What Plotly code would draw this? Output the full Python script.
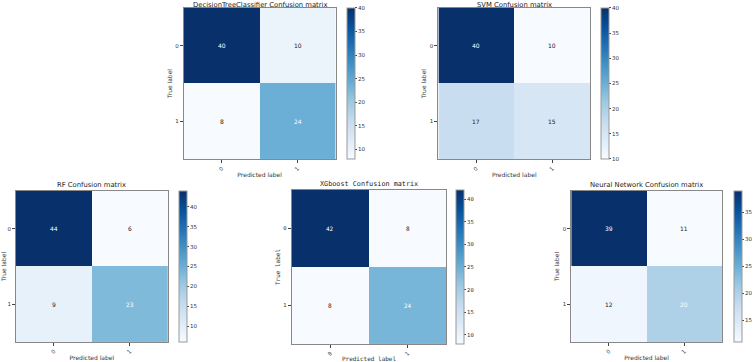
import plotly.graph_objects as go

W, H = 754, 362

titles = ["DecisionTreeClassifier Confusion matrix", "SVM Confusion matrix",
          "RF Confusion matrix", "XGboost Confusion matrix",
          "Neural Network Confusion matrix"]
cm_dt = [[40, 10], [8, 24]]
cm_svm = [[40, 10], [17, 15]]
cm_rf = [[44, 6], [9, 23]]
cm_xgb = [[42, 8], [8, 24]]
cm_nn = [[39, 11], [12, 20]]
matrices = [cm_dt, cm_svm, cm_rf, cm_xgb, cm_nn]
class_labels = ["0", "1"]

# panel boxes in pixels: heatmap left, right, top, bottom, colorbar left
boxes = [
    (184, 336, 8, 160, 347),
    (439, 591, 8, 160, 602),
    (16, 168, 192, 344, 179),
    (292, 447, 191, 346, 457),
    (572, 723, 192, 344, 735),
]
fonts = ["DejaVu Sans", "DejaVu Sans", "DejaVu Sans", "DejaVu Sans Mono", "DejaVu Sans"]

blues = ["#f7fbff", "#deebf7", "#c6dbef", "#9ecae1", "#6baed6",
         "#4292c6", "#2171b5", "#08519c", "#08306b"]
colorscale = [[i / (len(blues) - 1), c] for i, c in enumerate(blues)]

fig = go.Figure()
annotations = []
for i, (cm, title, box, fam) in enumerate(zip(matrices, titles, boxes, fonts)):
    x0, x1, t, b, cbx = box
    idx = "" if i == 0 else str(i + 1)
    flat = [v for row in cm for v in row]
    zmin, zmax = min(flat), max(flat)
    fig.add_trace(go.Heatmap(
        z=cm, x=[0, 1], y=[0, 1], colorscale=colorscale, zmin=zmin, zmax=zmax,
        xaxis="x" + idx, yaxis="y" + idx, hoverinfo="skip",
        colorbar=dict(x=cbx / W, xanchor="left", y=1 - t / H, yanchor="top",
                      len=(b - t) / H, lenmode="fraction", thickness=8,
                      thicknessmode="pixels", xpad=0, ypad=0,
                      outlinewidth=1, outlinecolor="#999",
                      ticks="outside", ticklen=2, tickwidth=0.6, tickcolor="#444",
                      tick0=0, dtick=5,
                      tickfont=dict(size=5.5, family=fam, color="#333")),
    ))
    ax = dict(domain=[x0 / W, x1 / W], range=[-0.5, 1.5], tickvals=[0, 1],
              ticktext=class_labels, tickangle=-45, showgrid=False, zeroline=False,
              showline=True, mirror=True, linecolor="#888", linewidth=1,
              ticks="outside", ticklen=3, tickwidth=0.6, tickcolor="#444",
              tickfont=dict(size=5.5, family=fam, color="#333"),
              anchor="y" + idx,
              title=dict(text="Predicted label", standoff=1,
                         font=dict(size=6, family=fam, color="#333")))
    ay = dict(domain=[1 - b / H, 1 - t / H], range=[1.5, -0.5], tickvals=[0, 1],
              ticktext=class_labels, showgrid=False, zeroline=False,
              showline=True, mirror=True, linecolor="#888", linewidth=1,
              ticks="outside", ticklen=3, tickwidth=0.6, tickcolor="#444",
              tickfont=dict(size=5.5, family=fam, color="#333"),
              anchor="x" + idx,
              title=dict(text="True label", standoff=2,
                         font=dict(size=6, family=fam, color="#333")))
    fig.update_layout(**{"xaxis" + idx: ax, "yaxis" + idx: ay})
    thresh = zmax / 2
    for r in range(2):
        for c in range(2):
            v = cm[r][c]
            annotations.append(dict(
                x=c, y=r, xref="x" + idx, yref="y" + idx, text=str(v),
                showarrow=False,
                font=dict(size=6, family=fam,
                          color="white" if v > thresh else "#222")))
    if t < 20:
        ty, anchor = 1.0, "top"
    else:
        ty, anchor = 1 - (t - 1) / H, "bottom"
    annotations.append(dict(
        x=(x0 + x1) / 2 / W, y=ty, xref="paper", yref="paper",
        text=title, showarrow=False, xanchor="center", yanchor=anchor,
        yshift=0, borderpad=0,
        font=dict(size=6.8, family=fam, color="#222")))

fig.update_layout(width=W, height=H, margin=dict(l=0, r=0, t=0, b=0),
                  paper_bgcolor="white", plot_bgcolor="white",
                  annotations=annotations, showlegend=False)
fig.write_html("out.html")
